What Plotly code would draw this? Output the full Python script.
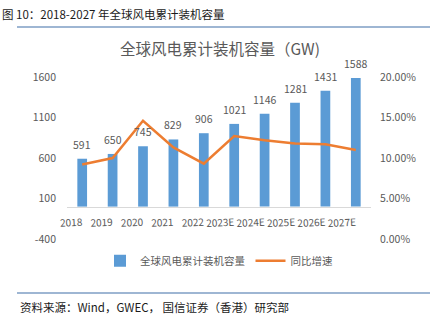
import plotly.graph_objects as go

years = ["2018", "2019", "2020", "2021", "2022", "2023E", "2024E", "2025E", "2026E", "2027E"]
capacity = [591, 650, 745, 829, 906, 1021, 1146, 1281, 1431, 1588]
growth = [0.092, 0.100, 0.146, 0.113, 0.093, 0.127, 0.122, 0.118, 0.117, 0.110]
left_ticks = [-400, 100, 600, 1100, 1600]
right_ticks = [0, 0.05, 0.10, 0.15, 0.20]

FONT = "Noto Sans CJK SC"
GRAY = "#595959"

fig = go.Figure()
fig.add_trace(go.Bar(
    x=years, y=capacity, name="全球风电累计装机容量",
    marker=dict(color="#5B9BD5", line=dict(width=0)),
    width=0.32,
))
fig.add_trace(go.Scatter(
    x=years, y=growth, name="同比增速", yaxis="y2", mode="lines",
    line=dict(color="#ED7D31", width=2.5),
))

label_annotations = [
    dict(x=i, y=v, xref="x", yref="y", text=str(v), showarrow=False,
         xanchor="center", yanchor="bottom", yshift=5,
         font=dict(size=10.5, color=GRAY, family=FONT))
    for i, v in enumerate(capacity)
]

fig.update_layout(
    width=444, height=324,
    margin=dict(l=67, r=73, t=77, b=85),
    paper_bgcolor="white", plot_bgcolor="white",
    font=dict(family=FONT, color=GRAY, size=10.5),
    showlegend=True,
    legend=dict(orientation="h", x=0.5, xanchor="center", y=-0.135, yanchor="middle",
                font=dict(size=10.5, color=GRAY, family=FONT), itemwidth=30,
                traceorder="normal"),
    xaxis=dict(type="category", anchor="free", position=0.2, showline=True, linecolor="#D9D9D9", linewidth=1,
               ticks="", tickfont=dict(size=10, color=GRAY), tickangle=-3, showgrid=False,
               ticklabelstandoff=6),
    yaxis=dict(range=[-400, 1600], tickvals=left_ticks, ticktext=[str(v) for v in left_ticks],
               showgrid=False, zeroline=False, showline=False, tickfont=dict(size=10.5, color=GRAY),
               ticklabelstandoff=10),
    yaxis2=dict(range=[0, 0.20], tickvals=right_ticks, ticktext=[f"{v*100:.2f}%" for v in right_ticks],
                overlaying="y", side="right", showgrid=False, zeroline=False, showline=False,
                tickfont=dict(size=10.5, color=GRAY), ticklabelstandoff=8),
    annotations=label_annotations + [
        dict(text="图 10：2018-2027 年全球风电累计装机容量", xref="paper", yref="paper",
             x=-67/304, y=1 + (77-14)/162, xanchor="left", yanchor="middle", showarrow=False,
             font=dict(size=11.5, color="#1a1a1a", family=FONT)),
        dict(text="全球风电累计装机容量（GW)", xref="paper", yref="paper",
             x=(220-67)/304, y=1 + (77-48)/162, xanchor="center", yanchor="middle", showarrow=False,
             font=dict(size=15.5, color=GRAY, family=FONT)),
        dict(text="资料来源：Wind，GWEC， 国信证券（香港）研究部", xref="paper", yref="paper",
             x=(18-67)/304, y=(239-307)/162, xanchor="left", yanchor="middle", showarrow=False,
             font=dict(size=11.5, color="#1a1a1a", family=FONT)),
    ],
    shapes=[
        dict(type="line", xref="paper", yref="paper", x0=(17-67)/304, x1=(430-67)/304,
             y0=1 + (77-27)/162, y1=1 + (77-27)/162, line=dict(color="#3E6FA8", width=1.2)),
        dict(type="line", xref="paper", yref="paper", x0=(17-67)/304, x1=(430-67)/304,
             y0=(239-293)/162, y1=(239-293)/162, line=dict(color="#3E6FA8", width=1.2)),
    ],
)

fig.write_html("out.html")
